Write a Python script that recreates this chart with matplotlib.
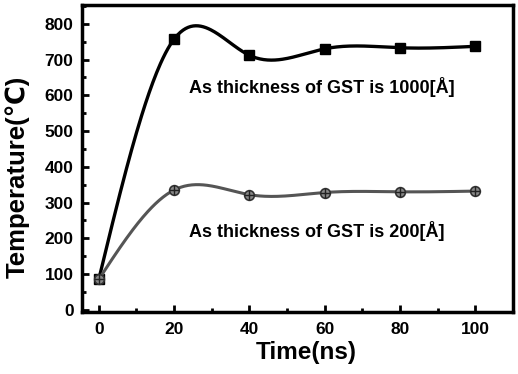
import numpy as np
import matplotlib
matplotlib.use('Agg')
import matplotlib.pyplot as plt
from matplotlib.ticker import MultipleLocator

plt.rcParams['font.family'] = ['Liberation Sans', 'DejaVu Sans']
plt.rcParams['font.weight'] = 'bold'

time_ns = [0, 20, 40, 60, 80, 100]
temp_1000 = [85, 757, 712, 730, 733, 737]
temp_200 = [85, 335, 322, 328, 330, 332]
label_1000 = 'As thickness of GST is 1000[Å]'
label_200 = 'As thickness of GST is 200[Å]'


def spline(x, y, n=300):
    # natural cubic spline, like Origin's "spline" connect
    x = np.asarray(x, float)
    y = np.asarray(y, float)
    k = len(x)
    h = np.diff(x)
    A = np.zeros((k, k))
    r = np.zeros(k)
    A[0, 0] = A[-1, -1] = 1
    for i in range(1, k - 1):
        A[i, i - 1] = h[i - 1]
        A[i, i] = 2 * (h[i - 1] + h[i])
        A[i, i + 1] = h[i]
        r[i] = 6 * ((y[i + 1] - y[i]) / h[i] - (y[i] - y[i - 1]) / h[i - 1])
    M = np.linalg.solve(A, r)
    xs = np.linspace(x[0], x[-1], n)
    j = np.clip(np.searchsorted(x, xs) - 1, 0, k - 2)
    t0 = x[j + 1] - xs
    t1 = xs - x[j]
    hj = h[j]
    ys = (M[j] * t0**3 + M[j + 1] * t1**3) / (6 * hj) \
        + (y[j] / hj - M[j] * hj / 6) * t0 + (y[j + 1] / hj - M[j + 1] * hj / 6) * t1
    return xs, ys


fig = plt.figure(figsize=(5.18, 3.74), dpi=100)
ax = fig.add_axes([0.158, 0.166, 0.832, 0.821])

xs, ys = spline(time_ns, temp_1000)
ax.plot(xs, ys, color='black', lw=2.4)
ax.plot(time_ns, temp_1000, 's', color='black', ms=6.5)

xs, ys = spline(time_ns, temp_200)
ax.plot(xs, ys, color='#555555', lw=2.2)
ax.plot(time_ns, temp_200, 'o', color='#444444', ms=7, mfc='#888888', mec='#333333', mew=1.2)
ax.plot(time_ns, temp_200, '+', color='#222222', ms=6.5, mew=1)

ax.text(24, 624, label_1000, fontsize=13, fontweight='bold', va='center')
ax.text(24, 221, label_200, fontsize=13, fontweight='bold', va='center')

ax.set_xlim(-4.5, 110)
ax.set_ylim(-6, 853)
ax.xaxis.set_major_locator(MultipleLocator(20))
ax.xaxis.set_minor_locator(MultipleLocator(10))
ax.yaxis.set_major_locator(MultipleLocator(100))
ax.yaxis.set_minor_locator(MultipleLocator(50))
ax.tick_params(which='both', direction='in', width=2, labelsize=12.5, top=False, right=False)
ax.tick_params(which='major', length=5)
ax.tick_params(which='minor', length=3)
ax.tick_params(axis='x', pad=7)
ax.tick_params(axis='y', pad=6)
for lab in ax.get_xticklabels() + ax.get_yticklabels():
    lab.set_fontweight('bold')
for s in ax.spines.values():
    s.set_linewidth(2.5)

ax.set_xlabel('Time(ns)', fontsize=17.5, fontweight='bold')
ax.set_ylabel('Temperature(℃)', fontsize=18.5, fontweight='bold')
ax.xaxis.set_label_coords(0.52, -0.094)
ax.yaxis.set_label_coords(-0.122, 0.44)

fig.savefig('out.png', dpi=100)
